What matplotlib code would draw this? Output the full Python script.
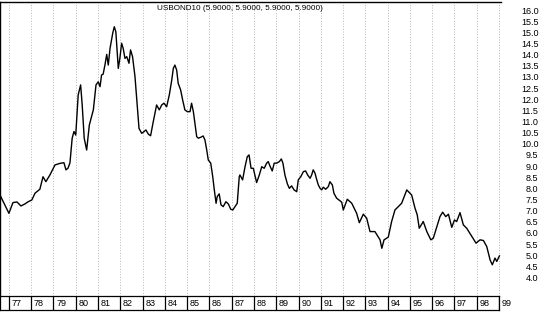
import matplotlib
matplotlib.use('Agg')
import matplotlib.pyplot as plt

plt.rcParams['font.family'] = ['Liberation Sans', 'DejaVu Sans']

# decimal years and 10 year bond yield (%)
years = [1976.60, 1977.00, 1977.18, 1977.36, 1977.54, 1977.72, 1977.85, 1978.03,
         1978.17, 1978.39, 1978.53, 1978.66, 1978.84, 1979.07, 1979.29, 1979.47,
         1979.56, 1979.65, 1979.74, 1979.78, 1979.84, 1979.92, 1980.00, 1980.11,
         1980.22, 1980.29, 1980.38, 1980.49, 1980.61, 1980.79, 1980.91, 1981.01,
         1981.09, 1981.16, 1981.23, 1981.31, 1981.39, 1981.46, 1981.54, 1981.66,
         1981.73, 1981.80, 1981.91, 1981.98, 1982.06, 1982.13, 1982.21, 1982.29,
         1982.39, 1982.46, 1982.55, 1982.66, 1982.76, 1982.84, 1982.96, 1983.06,
         1983.15, 1983.26, 1983.36, 1983.48, 1983.63, 1983.75, 1983.86, 1983.96,
         1984.08, 1984.20, 1984.31, 1984.38, 1984.45, 1984.53, 1984.60, 1984.71,
         1984.80, 1984.90, 1985.01, 1985.13, 1985.20, 1985.28, 1985.35, 1985.43,
         1985.50, 1985.61, 1985.72, 1985.80, 1985.88, 1985.95, 1986.06, 1986.15,
         1986.22, 1986.30, 1986.35, 1986.44, 1986.52, 1986.62, 1986.74, 1986.85,
         1986.96, 1987.05, 1987.15, 1987.25, 1987.34, 1987.37, 1987.49, 1987.60,
         1987.70, 1987.78, 1987.87, 1987.97, 1988.12, 1988.24, 1988.35, 1988.46,
         1988.57, 1988.64, 1988.72, 1988.82, 1988.91, 1989.02, 1989.14, 1989.23,
         1989.30, 1989.39, 1989.50, 1989.59, 1989.69, 1989.80, 1989.92, 1989.99,
         1990.10, 1990.22, 1990.32, 1990.41, 1990.52, 1990.59, 1990.66, 1990.74,
         1990.82, 1990.89, 1990.97, 1991.04, 1991.11, 1991.22, 1991.34, 1991.41,
         1991.52, 1991.59, 1991.71, 1991.94, 1992.01, 1992.19, 1992.39, 1992.61,
         1992.73, 1992.91, 1993.06, 1993.21, 1993.43, 1993.66, 1993.74, 1993.84,
         1994.03, 1994.18, 1994.33, 1994.48, 1994.63, 1994.86, 1995.08, 1995.23,
         1995.33, 1995.42, 1995.60, 1995.76, 1995.94, 1996.05, 1996.21, 1996.35,
         1996.47, 1996.61, 1996.73, 1996.88, 1997.00, 1997.10, 1997.25, 1997.40,
         1997.55, 1997.78, 1997.97, 1998.15, 1998.30, 1998.45, 1998.60, 1998.70,
         1998.82, 1998.90, 1999.02]
yields = [7.70, 6.88, 7.36, 7.39, 7.21, 7.30, 7.39, 7.48,
          7.78, 7.96, 8.52, 8.30, 8.60, 9.05, 9.12, 9.15,
          8.83, 8.90, 9.14, 9.57, 10.25, 10.55, 10.39, 12.19,
          12.64, 11.74, 10.25, 9.72, 10.84, 11.52, 12.64, 12.78,
          12.56, 13.09, 13.12, 13.53, 14.01, 13.53, 14.28, 14.96,
          15.25, 15.03, 13.38, 13.83, 14.51, 14.28, 13.83, 13.91,
          13.61, 14.21, 13.91, 13.01, 11.74, 10.69, 10.47, 10.54,
          10.62, 10.43, 10.36, 10.99, 11.74, 11.52, 11.74, 11.82,
          11.66, 12.19, 12.86, 13.38, 13.53, 13.31, 12.71, 12.41,
          11.96, 11.52, 11.44, 11.44, 11.82, 11.44, 10.92, 10.32,
          10.25, 10.29, 10.35, 10.17, 9.72, 9.27, 9.13, 8.52,
          7.93, 7.33, 7.63, 7.75, 7.26, 7.18, 7.40, 7.30,
          7.06, 7.03, 7.18, 7.33, 8.52, 8.60, 8.38, 8.97,
          9.42, 9.50, 8.90, 8.90, 8.26, 8.60, 8.97, 8.90,
          9.13, 9.20, 9.00, 8.78, 9.13, 9.13, 9.20, 9.32,
          9.13, 8.60, 8.20, 8.00, 8.11, 7.93, 7.85, 8.38,
          8.52, 8.75, 8.78, 8.60, 8.45, 8.60, 8.83, 8.68,
          8.38, 8.15, 8.00, 7.93, 8.05, 7.96, 8.08, 8.30,
          8.15, 7.78, 7.56, 7.38, 7.03, 7.51, 7.33, 6.88,
          6.46, 6.84, 6.66, 6.06, 6.06, 5.69, 5.31, 5.69,
          5.81, 6.51, 7.03, 7.18, 7.33, 7.93, 7.70, 7.11,
          6.81, 6.21, 6.51, 6.06, 5.69, 5.76, 6.28, 6.73,
          6.93, 6.73, 6.84, 6.25, 6.58, 6.51, 6.91, 6.36,
          6.21, 5.84, 5.54, 5.69, 5.66, 5.39, 4.79, 4.57,
          4.87, 4.72, 4.97]

year_marks = list(range(1977, 2000))
year_labels = ['%02d' % (y % 100) for y in year_marks]
ytick_vals = [4.0 + 0.5 * i for i in range(25)]
title = 'USBOND10 (5.9000, 5.9000, 5.9000, 5.9000)'

W, H = 543, 312
fig = plt.figure(figsize=(W / 100, H / 100), dpi=100)

x0, x1 = 1976.60, 1999.09
# main panel: pixels x 0..501, y 2..296
ax = fig.add_axes([0 / W, 1 - 296 / H, 501 / W, 294 / H])
ax.set_xlim(x0, x1)
ax.set_ylim(3.17, 16.36)

for y in year_marks:
    ax.axvline(y, color='#9a9a9a', lw=0.6, ls=(0, (1, 2.2)), zorder=1)

ax.plot(years, yields, color='black', lw=1.0, zorder=3)

ax.text(157 / 501, 1 - 7 / 294, title, transform=ax.transAxes,
        fontsize=5.9, ha='left', va='center')

ax.set_xticks([])
ax.yaxis.tick_right()
ax.set_yticks(ytick_vals)
ax.set_yticklabels(['%.1f' % v for v in ytick_vals], ha='right')
ax.tick_params(axis='y', length=0, pad=27, labelsize=6.5)
ax.spines['right'].set_visible(False)
ax.spines['bottom'].set_visible(False)
for s in ('left', 'top'):
    ax.spines[s].set_linewidth(1.0)

# year strip at the bottom: pixels y 296..310, ends at the 99 boundary
strip_right = 1999.0
sw = (strip_right - x0) / (x1 - x0) * 501
sx = fig.add_axes([0, 1 - 310 / H, sw / W, 14 / H])
sx.set_xlim(x0, strip_right)
sx.set_ylim(0, 1)
sx.set_xticks([])
sx.set_yticks([])
for s in sx.spines.values():
    s.set_linewidth(0.9)
for y, lab in zip(year_marks, year_labels):
    sx.axvline(y, color='black', lw=0.9)
    sx.text(y + 0.12, 0.45, lab, fontsize=6.5, ha='left', va='center',
            clip_on=False)

fig.savefig('out.png', dpi=100)
